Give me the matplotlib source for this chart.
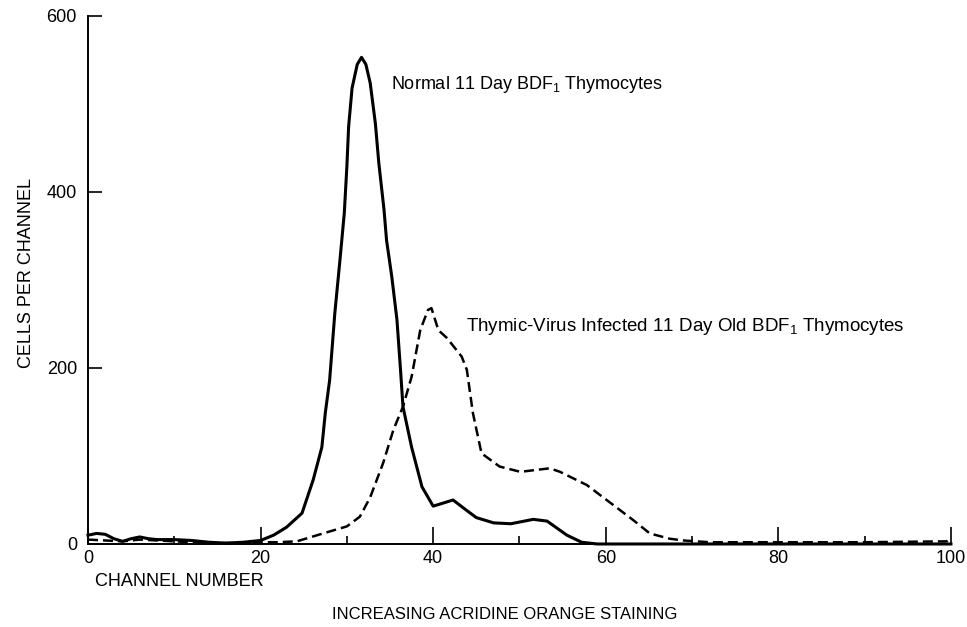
import matplotlib
matplotlib.use("Agg")
from matplotlib import pyplot as plt

plt.rcParams['font.family'] = ['Liberation Sans', 'DejaVu Sans']
plt.rcParams['mathtext.fontset'] = 'custom'
plt.rcParams['mathtext.rm'] = 'Liberation Sans'
plt.rcParams['mathtext.it'] = 'Liberation Sans'

# normal 11 day BDF1 thymocytes (solid)
normal_x = [0, 1, 2, 3, 4, 5, 6, 7, 8, 10, 12, 14, 16, 18, 20, 21.5, 23, 24.8, 26.1, 27.1,
            27.5, 28.0, 28.6, 29.2, 29.7, 30.0, 30.2, 30.6, 31.2, 31.7, 32.2, 32.7, 33.3, 33.7,
            34.3, 34.6, 35.2, 35.8, 36.2, 36.5, 37.5, 38.7, 40.0, 41.0, 42.3, 43.9, 45, 47, 49,
            51.6, 53.2, 55.5, 57.2, 59, 62, 70, 80, 90, 100]
normal_y = [10, 12, 11, 6, 3, 6, 8, 6, 5, 5, 4, 2, 1, 2, 4, 10, 19, 35, 73, 110,
            149, 186, 262, 323, 376, 429, 474, 518, 545, 553, 545, 524, 478, 433,
            380, 345, 304, 255, 200, 156, 110, 65, 43, 46, 50, 38, 30, 24, 23,
            28, 26, 10, 2, 0, 0, 0, 0, 0, 0]

# thymic-virus infected (dashed)
infected_x = [0, 2, 4, 6, 8, 10, 14, 18, 20, 22, 24.2, 26.9, 30, 31.5, 32.7, 34.2, 35.4, 36.5,
              37.5, 38.5, 39.4, 39.8, 40.6, 41.6, 43.3, 43.9, 44.6, 45.6, 47.7, 50.1, 53.5,
              54.7, 57.8, 60.1, 63.2, 65.1, 67.4, 69, 72, 80, 90, 99.5, 100]
infected_y = [5, 4, 3, 5, 4, 3, 1, 1, 2, 2, 3, 11, 20, 31, 53, 92, 130, 156,
              190, 243, 266, 268, 243, 234, 213, 198, 149, 103, 88, 82, 86,
              82, 67, 50, 27, 12, 6, 4, 2, 2, 2, 3, 8]

x_major = [0, 20, 40, 60, 80, 100]
x_minor = [10, 30, 50, 70, 90]
y_ticks = [0, 200, 400, 600]

fig = plt.figure(figsize=(9.67, 6.27), dpi=100)
ax = fig.add_axes([0.091, 0.1324, 0.8924, 0.8421])

ax.plot(normal_x, normal_y, color='black', lw=2.2, clip_on=False)
ax.plot(infected_x, infected_y, color='black', lw=1.8, dashes=(4, 2), clip_on=False)

ax.set_xlim(0, 100)
ax.set_ylim(0, 600)
for s in ['top', 'right']:
    ax.spines[s].set_visible(False)
for s in ['left', 'bottom']:
    ax.spines[s].set_linewidth(1.4)

ax.set_xticks(x_major)
ax.set_xticks(x_minor, minor=True)
ax.set_yticks(y_ticks)
ax.tick_params(axis='x', which='major', direction='in', length=12, width=1.2,
               labelsize=13, pad=4)
ax.tick_params(axis='x', which='minor', direction='in', length=6, width=1.2)
ax.tick_params(axis='y', which='major', direction='in', length=10, width=1.2,
               labelsize=13, pad=8)

ax.text(35.1, 522, 'Normal 11 Day BDF$_1$ Thymocytes', fontsize=13, va='center')
ax.text(43.8, 247, 'Thymic-Virus Infected 11 Day Old BDF$_1$ Thymocytes', fontsize=13.5,
        va='center')

fig.text(0.027, 0.565, 'CELLS PER CHANNEL', fontsize=13, rotation=90,
         va='center', ha='center')
fig.text(0.098, 0.072, 'CHANNEL NUMBER', fontsize=13, va='center')
fig.text(0.522, 0.02, 'INCREASING ACRIDINE ORANGE STAINING', fontsize=12,
         va='center', ha='center')

fig.savefig('out.png', dpi=100)
